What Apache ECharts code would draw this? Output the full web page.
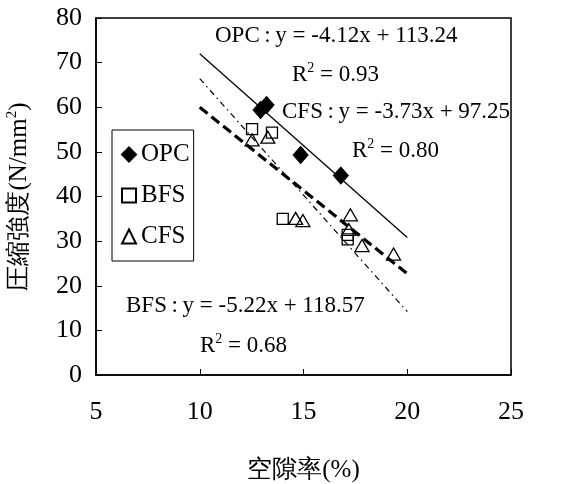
<!DOCTYPE html>
<html><head><meta charset="utf-8">
<script src="https://cdn.jsdelivr.net/npm/echarts@6/dist/echarts.min.js"></script>
<style>html,body{margin:0;padding:0;background:#fff}#c{width:563px;height:484px}</style>
</head><body><div id="c"></div>
<script>
const seriesNames = ['OPC', 'BFS', 'CFS'];
const opcX = [12.93, 13.22, 14.86, 16.8];
const opcY = [59.4, 60.5, 49.3, 44.7];
const bfsX = [12.52, 13.48, 14.0, 17.13, 17.13];
const bfsY = [55.1, 54.3, 35.0, 30.4, 31.4];
const cfsX = [12.52, 13.28, 14.62, 14.97, 17.26, 17.18, 17.82, 19.34];
const cfsY = [52.7, 53.3, 35.1, 34.6, 35.9, 32.6, 29.0, 27.1];
const fitX = [10, 20];
const opcFit = [72.0, 30.8];
const bfsFit = [66.4, 14.2];
const cfsFit = [60.0, 22.7];
const xTicks = [5, 10, 15, 20, 25];
const yTicks = [0, 10, 20, 30, 40, 50, 60, 70, 80];
const eqOPC = 'OPC\u2009:\u2009y = -4.12x + 113.24';
const r2OPC = '0.93';
const eqCFS = 'CFS\u2009:\u2009y = -3.73x + 97.25';
const r2CFS = '0.80';
const eqBFS = 'BFS\u2009:\u2009y = -5.22x + 118.57';
const r2BFS = '0.68';

const zip = (a, b) => a.map((v, i) => [v, b[i]]);
const SERIF = 'Liberation Serif';
const chart = echarts.init(document.getElementById('c'));
const supRich = { sup: { fontSize: 14, fontFamily: SERIF, color: '#000', verticalAlign: 'top', padding: [0, 0, 14, 0] } };
function txt(x, y, s) {
  return { type: 'text', left: x, top: y, style: { text: s, fontSize: 23, fontFamily: SERIF, fill: '#000', rich: supRich } };
}
chart.setOption({
  animation: false,
  backgroundColor: '#fff',
  textStyle: { fontFamily: SERIF },
  grid: { left: 96, right: 52, top: 18, bottom: 109, containLabel: false, outerBoundsMode: 'none', show: true, borderColor: '#000', borderWidth: 1.5, backgroundColor: 'transparent' },
  xAxis: {
    type: 'value', min: xTicks[0], max: xTicks[xTicks.length - 1], interval: 5,
    axisLine: { lineStyle: { color: '#000', width: 1.5 } },
    axisTick: { inside: true, length: 6, lineStyle: { color: '#000', width: 1 } },
    splitLine: { show: false },
    axisLabel: { color: '#000', fontFamily: SERIF, fontSize: 26, margin: 24 },
    name: '空隙率(%)', nameLocation: 'middle', nameGap: 83,
    nameTextStyle: { color: '#000', fontFamily: SERIF, fontSize: 25 }
  },
  yAxis: {
    type: 'value', min: yTicks[0], max: yTicks[yTicks.length - 1], interval: 10,
    axisLine: { lineStyle: { color: '#000', width: 1.5 } },
    axisTick: { inside: true, length: 6, lineStyle: { color: '#000', width: 1 } },
    splitLine: { show: false },
    axisLabel: { color: '#000', fontFamily: SERIF, fontSize: 26, margin: 14 },
    name: '圧縮強度(N/mm{sup|2})', nameLocation: 'middle', nameGap: 62, nameRotate: 90,
    nameTextStyle: { color: '#000', fontFamily: SERIF, fontSize: 25, rich: { sup: { fontSize: 15, fontFamily: SERIF, color: '#000', verticalAlign: 'top', padding: [0, 0, 14, 0] } } }
  },
  legend: {
    data: seriesNames, orient: 'vertical', left: 112, top: 130,
    borderColor: '#000', borderWidth: 1, padding: [12, 4, 12, 9],
    itemGap: 16, itemWidth: 14, itemHeight: 14,
    textStyle: { color: '#000', fontFamily: SERIF, fontSize: 25 }
  },
  series: [
    { name: 'OPC fit', type: 'line', data: zip(fitX, opcFit), symbol: 'none', silent: true, lineStyle: { color: '#000', width: 1.3 }, z: 1 },
    { name: 'BFS fit', type: 'line', data: zip(fitX, bfsFit), symbol: 'none', silent: true, lineStyle: { color: '#000', width: 1.2, type: [6, 4, 1.5, 4] }, z: 1 },
    { name: 'CFS fit', type: 'line', data: zip(fitX, cfsFit), symbol: 'none', silent: true, lineStyle: { color: '#000', width: 3.2, type: [10, 5] }, z: 1 },
    { name: 'OPC', type: 'scatter', data: zip(opcX, opcY), symbol: 'diamond', symbolSize: [15, 17], itemStyle: { color: '#000', borderColor: '#000', borderWidth: 1, opacity: 1 }, z: 3 },
    { name: 'BFS', type: 'scatter', data: zip(bfsX, bfsY), symbol: 'rect', symbolSize: 11, itemStyle: { color: 'rgba(255,255,255,0)', borderColor: '#000', borderWidth: 1.3, opacity: 1 }, z: 3 },
    { name: 'CFS', type: 'scatter', data: zip(cfsX, cfsY), symbol: 'triangle', symbolSize: [14, 12], itemStyle: { color: 'rgba(255,255,255,0)', borderColor: '#000', borderWidth: 1.3, opacity: 1 }, z: 3 }
  ],
  graphic: [
    txt(215, 24, eqOPC),
    txt(292, 61, 'R{sup|2} = ' + r2OPC),
    txt(282, 100, eqCFS),
    txt(352, 137, 'R{sup|2} = ' + r2CFS),
    txt(126, 294, eqBFS),
    txt(200, 332, 'R{sup|2} = ' + r2BFS)
  ]
});
</script></body></html>
